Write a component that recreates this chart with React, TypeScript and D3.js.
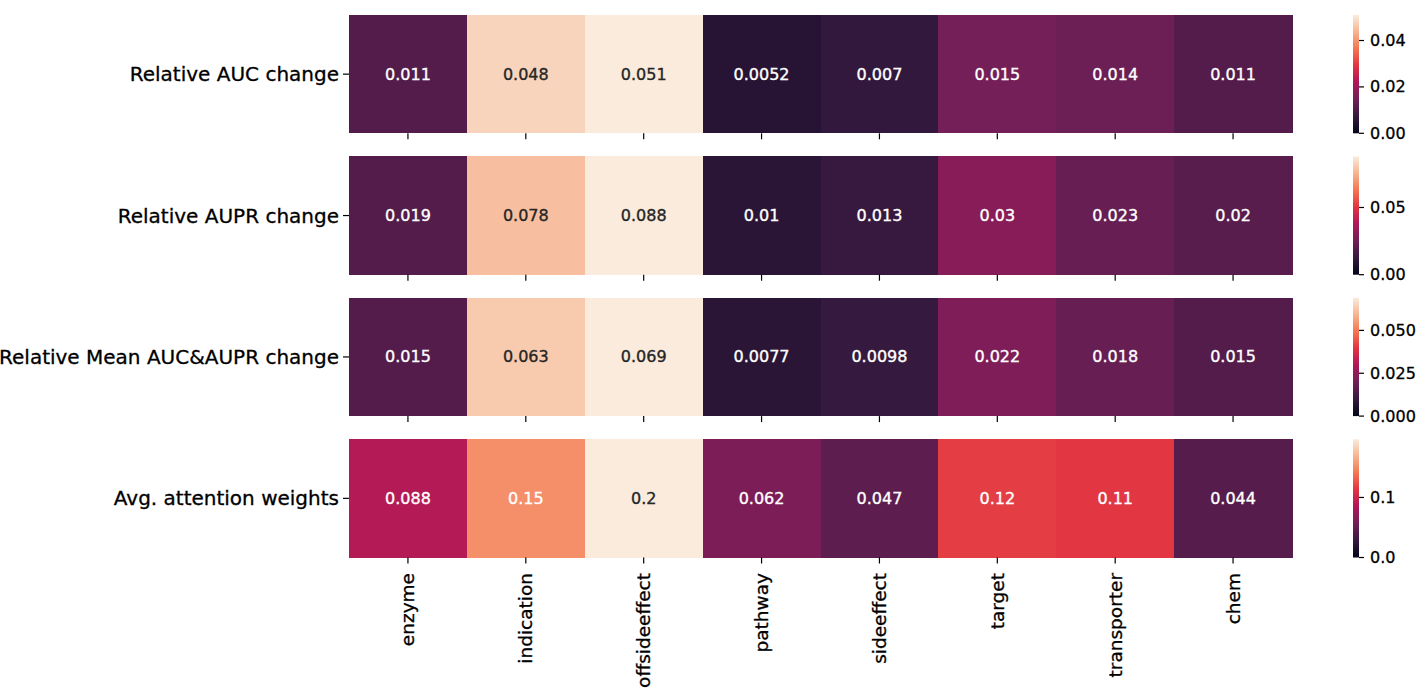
import React from "react";
import * as d3 from "d3";

const categories = ["enzyme", "indication", "offsideeffect", "pathway", "sideeffect", "target", "transporter", "chem"];
const rowLabels = ["Relative AUC change", "Relative AUPR change", "Relative Mean AUC&AUPR change", "Avg. attention weights"];
const aucChange = [0.011, 0.048, 0.051, 0.0052, 0.007, 0.015, 0.014, 0.011];
const auprChange = [0.019, 0.078, 0.088, 0.01, 0.013, 0.03, 0.023, 0.02];
const meanChange = [0.015, 0.063, 0.069, 0.0077, 0.0098, 0.022, 0.018, 0.015];
const attnWeights = [0.088, 0.152, 0.197, 0.062, 0.047, 0.117, 0.114, 0.044];
const cbTicks1 = [0, 0.02, 0.04];
const cbTicks2 = [0, 0.05];
const cbTicks3 = [0, 0.025, 0.05];
const cbTicks4 = [0, 0.1];
const cbFormats = [".2f", ".2f", ".3f", ".1f"];

const rows = [aucChange, auprChange, meanChange, attnWeights];
const cbTicks = [cbTicks1, cbTicks2, cbTicks3, cbTicks4];

const rocketStops = ["#03051a", "#35193e", "#701f57", "#ad1759", "#e13342", "#f37651", "#f6b48f", "#faebdd"];
const rocket = d3.piecewise(d3.interpolateRgb, rocketStops);
const annotFormat = d3.format(".2~g");

function luminance(c: string) {
  const rgb = d3.rgb(c);
  const f = (v: number) => {
    v = v / 255;
    return v <= 0.03928 ? v / 12.92 : Math.pow((v + 0.055) / 1.055, 2.4);
  };
  return 0.2126 * f(rgb.r) + 0.7152 * f(rgb.g) + 0.0722 * f(rgb.b);
}

const FONT = "DejaVu Sans, Verdana, sans-serif";

export default function App() {
  const left = 349;
  const right = 1292;
  const rowTop0 = 15;
  const rowStep = 141.4;
  const rowH = 118.3;
  const cbX = 1353;
  const cbW = 6;

  const x = d3.scaleBand<string>().domain(categories).range([left, right]).padding(0);

  return (
    <svg width={1424} height={693} style={{ position: "absolute", left: 0, top: 0, background: "#fff" }} fontFamily={FONT}>
      <defs>
        <linearGradient id="rocketGrad" x1="0" y1="1" x2="0" y2="0">
          {d3.range(0, 1.0001, 0.02).map((t) => (
            <stop key={t} offset={t} stopColor={rocket(Math.min(1, t))} />
          ))}
        </linearGradient>
      </defs>
      {rows.map((vals, ri) => {
        const top = rowTop0 + ri * rowStep;
        const vmax = d3.max(vals) as number;
        const color = d3.scaleSequential(rocket).domain([0, vmax]);
        const cy = d3.scaleLinear().domain([0, vmax]).range([top + rowH, top]);
        const fmt = d3.format(cbFormats[ri]);
        return (
          <g key={ri}>
            {vals.map((v, ci) => {
              const c = color(v);
              const cx = x(categories[ci]) as number;
              const tc = luminance(c) > 0.408 ? "#262626" : "#ffffff";
              return (
                <g key={ci}>
                  <rect x={cx} y={top} width={x.bandwidth() + 0.5} height={rowH} fill={c} shapeRendering="crispEdges" />
                  <text
                    x={cx + x.bandwidth() / 2}
                    y={top + rowH / 2}
                    textAnchor="middle"
                    dominantBaseline="central"
                    fontSize={16}
                    fill={tc}
                    stroke={tc}
                    strokeWidth={0.35}
                  >
                    {annotFormat(v)}
                  </text>
                </g>
              );
            })}
            <line x1={left - 6} x2={left} y1={top + rowH / 2} y2={top + rowH / 2} stroke="#000" strokeWidth={1.2} />
            <text x={left - 10} y={top + rowH / 2} textAnchor="end" dominantBaseline="central" fontSize={20} fill="#000" stroke="#000" strokeWidth={0.3}>
              {rowLabels[ri]}
            </text>
            {categories.map((cat) => (
              <line
                key={cat}
                x1={(x(cat) as number) + x.bandwidth() / 2}
                x2={(x(cat) as number) + x.bandwidth() / 2}
                y1={top + rowH}
                y2={top + rowH + 6}
                stroke="#000"
                strokeWidth={1.2}
              />
            ))}
            <rect x={cbX} y={top} width={cbW} height={rowH} fill="url(#rocketGrad)" />
            {cbTicks[ri].map((t) => (
              <g key={t}>
                <line x1={cbX + cbW} x2={cbX + cbW + 5} y1={cy(t)} y2={cy(t)} stroke="#000" strokeWidth={1.2} />
                <text x={cbX + cbW + 11} y={cy(t)} dominantBaseline="central" fontSize={16} fill="#000" stroke="#000" strokeWidth={0.3}>
                  {fmt(t)}
                </text>
              </g>
            ))}
          </g>
        );
      })}
      {categories.map((cat) => {
        const px = (x(cat) as number) + x.bandwidth() / 2;
        const py = rowTop0 + 3 * rowStep + rowH + 15.5;
        return (
          <text
            key={cat}
            transform={`translate(${px},${py}) rotate(-90)`}
            textAnchor="end"
            dominantBaseline="central"
            fontSize={18.5}
            fill="#000"
            stroke="#000"
            strokeWidth={0.3}
          >
            {cat}
          </text>
        );
      })}
    </svg>
  );
}
